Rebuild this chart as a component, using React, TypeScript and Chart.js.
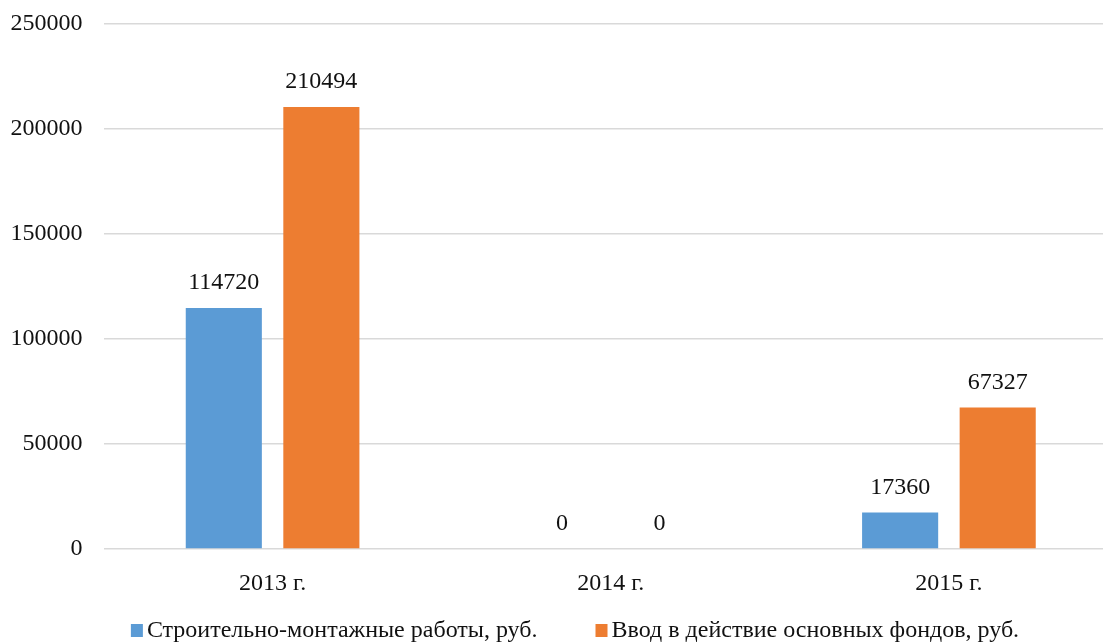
import React, { useEffect, useRef } from "react";
import { Chart, registerables } from "chart.js";

Chart.register(...registerables);

const categories = ["2013 г.", "2014 г.", "2015 г."];
const seriesNames = ["Строительно-монтажные работы, руб.", "Ввод в действие основных фондов, руб."];
const smrValues = [114720, 0, 17360];
const vvodValues = [210494, 0, 67327];
const seriesColors = ["#5B9BD5", "#ED7D31"];

const FONT = "'Liberation Serif', 'Times New Roman', serif";
const FS = 24;

const valueLabels = {
  id: "valueLabels",
  afterDatasetsDraw(chart: any) {
    const ctx = chart.ctx;
    ctx.save();
    ctx.font = `${FS}px ${FONT}`;
    ctx.fillStyle = "#111";
    ctx.textAlign = "center";
    ctx.textBaseline = "middle";
    chart.data.datasets.forEach((ds: any, i: number) => {
      const meta = chart.getDatasetMeta(i);
      meta.data.forEach((el: any, j: number) => {
        ctx.fillText(String(ds.data[j]), el.x, el.y - 25);
      });
    });
    ctx.restore();
  },
};

const customLegend = {
  id: "customLegend",
  afterDraw(chart: any) {
    const ctx = chart.ctx;
    ctx.save();
    ctx.font = `${FS}px ${FONT}`;
    const box = 12;
    const gap = 4;
    const itemGap = 58;
    const items = chart.data.datasets.map((ds: any) => ({
      label: ds.label,
      color: ds.backgroundColor,
      w: box + gap + ctx.measureText(ds.label).width,
    }));
    const total = items.reduce((s: number, it: any) => s + it.w, 0) + itemGap * (items.length - 1);
    let x = 575 - total / 2;
    const y = 631;
    items.forEach((it: any) => {
      ctx.fillStyle = it.color;
      ctx.fillRect(x, y - 7, box, 13);
      ctx.fillStyle = "#111";
      ctx.textAlign = "left";
      ctx.textBaseline = "middle";
      ctx.fillText(it.label, x + box + gap, y);
      x += it.w + itemGap;
    });
    ctx.restore();
  },
};

export default function App() {
  const ref = useRef<HTMLCanvasElement>(null);
  useEffect(() => {
    document.body.style.overflow = "hidden";
    const chart = new Chart(ref.current!, {
      type: "bar",
      data: {
        labels: categories,
        datasets: [
          { label: seriesNames[0], data: smrValues, backgroundColor: seriesColors[0] },
          { label: seriesNames[1], data: vvodValues, backgroundColor: seriesColors[1] },
        ],
      },
      options: {
        responsive: false,
        animation: false,
        layout: { padding: { top: 24, right: 32, left: 0, bottom: 0 } },
        datasets: { bar: { categoryPercentage: 0.577, barPercentage: 0.78 } },
        plugins: { legend: { display: false }, tooltip: { enabled: false } },
        scales: {
          x: {
            grid: { display: false },
            border: { display: false },
            ticks: { font: { family: FONT, size: FS }, color: "#111", padding: 12 },
            afterFit: (s: any) => { s.height = 95; s.paddingLeft = 0; s.paddingRight = 0; },
          },
          y: {
            min: 0,
            max: 250000,
            ticks: {
              stepSize: 50000,
              font: { family: FONT, size: FS },
              color: "#111",
              padding: 21,
              callback: (v: any) => String(v),
            },
            grid: { color: "#d9d9d9", lineWidth: 1.5, drawTicks: false },
            border: { display: false },
            afterFit: (s: any) => { s.width = 103.5; s.paddingTop = 0; s.paddingBottom = 0; },
          },
        },
      },
      plugins: [valueLabels, customLegend],
    });
    return () => chart.destroy();
  }, []);
  return (
    <div style={{ position: "fixed", left: 0, top: 0, width: 1150, height: 644, background: "#fff" }}>
      <canvas ref={ref} width={1150} height={644} style={{ width: 1150, height: 644 }} />
    </div>
  );
}
